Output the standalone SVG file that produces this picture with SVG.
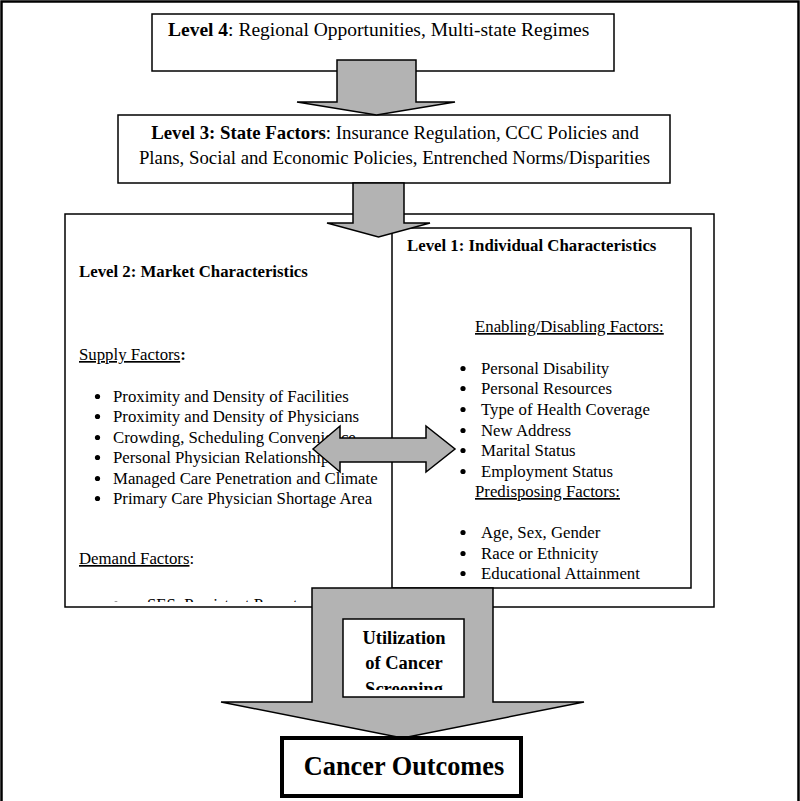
<svg xmlns="http://www.w3.org/2000/svg" width="800" height="801" viewBox="0 0 800 801">
<style>
  text { font-family: "Liberation Serif", "Times New Roman", serif; fill: #000; }
  .box { fill: #fff; stroke: #000; stroke-width: 1.5; }
  .arrow { fill: #b3b3b3; stroke: #000; stroke-width: 1.5; stroke-linejoin: miter; }
  .t4 { font-size: 19.5px; }
  .t3 { font-size: 18.8px; }
  .t16 { font-size: 16.8px; }
  .b { font-weight: bold; }
  .u { text-decoration: underline; }
  .dot { fill: #000; }
</style>
<defs>
  <clipPath id="clipL2"><rect x="65" y="214" width="649" height="388"/></clipPath>
  <clipPath id="clipUtil"><rect x="343" y="619" width="121" height="71"/></clipPath>
</defs>
<rect x="1.5" y="1.5" width="797" height="820" fill="#fff" stroke="#000" stroke-width="2.5"/>

<g id="level4">
  <rect class="box" x="152" y="14" width="462" height="57"/>
  <text class="t4" x="168" y="36"><tspan class="b">Level 4</tspan>: Regional Opportunities, Multi-state Regimes</text>
</g>

<g id="level3">
  <rect class="box" x="118" y="115" width="552" height="68"/>
  <text class="t3" x="395" y="139" text-anchor="middle"><tspan class="b">Level 3: State Factors</tspan>: Insurance Regulation, CCC Policies and</text>
  <text class="t3" x="394.5" y="164" text-anchor="middle">Plans, Social and Economic Policies, Entrenched Norms/Disparities</text>
</g>

<g id="level2">
  <rect class="box" x="65" y="214" width="649" height="393"/>
  <g clip-path="url(#clipL2)" class="t16">
    <text class="b" x="79" y="277">Level 2: Market Characteristics</text>
    <text x="79" y="360"><tspan class="u">Supply Factors</tspan><tspan class="b">:</tspan></text>
    <circle class="dot" cx="97.5" cy="396.5" r="2.6"/><text x="113" y="402">Proximity and Density of Facilities</text>
    <circle class="dot" cx="97.5" cy="416.5" r="2.6"/><text x="113" y="422">Proximity and Density of Physicians</text>
    <circle class="dot" cx="97.5" cy="437.5" r="2.6"/><text x="113" y="443">Crowding, Scheduling Convenience</text>
    <circle class="dot" cx="97.5" cy="457.5" r="2.6"/><text x="113" y="463">Personal Physician Relationship</text>
    <circle class="dot" cx="97.5" cy="478.5" r="2.6"/><text x="113" y="484">Managed Care Penetration and Climate</text>
    <circle class="dot" cx="97.5" cy="498.5" r="2.6"/><text x="113" y="504">Primary Care Physician Shortage Area</text>
    <text x="79" y="564"><tspan class="u">Demand Factors</tspan>:</text>
    <circle class="dot" cx="116" cy="604" r="2.6"/><text x="147" y="610">SES, Persistent Poverty</text>
  </g>
</g>

<g id="level1">
  <rect class="box" x="392" y="228" width="299" height="360"/>
  <g class="t16">
    <text class="b" x="407" y="251">Level 1: Individual Characteristics</text>
    <text class="u" x="475" y="332">Enabling/Disabling Factors:</text>
    <circle class="dot" cx="463" cy="368.5" r="2.6"/><text x="481" y="374">Personal Disability</text>
    <circle class="dot" cx="463" cy="388.5" r="2.6"/><text x="481" y="394">Personal Resources</text>
    <circle class="dot" cx="463" cy="409.5" r="2.6"/><text x="481" y="415">Type of Health Coverage</text>
    <circle class="dot" cx="463" cy="430.5" r="2.6"/><text x="481" y="436">New Address</text>
    <circle class="dot" cx="463" cy="450.5" r="2.6"/><text x="481" y="456">Marital Status</text>
    <circle class="dot" cx="463" cy="471.5" r="2.6"/><text x="481" y="477">Employment Status</text>
    <text class="u" x="475" y="497">Predisposing Factors:</text>
    <circle class="dot" cx="463" cy="532.5" r="2.6"/><text x="481" y="538">Age, Sex, Gender</text>
    <circle class="dot" cx="463" cy="553.5" r="2.6"/><text x="481" y="559">Race or Ethnicity</text>
    <circle class="dot" cx="463" cy="573.5" r="2.6"/><text x="481" y="579">Educational Attainment</text>
  </g>
</g>

<g id="connectors">
  <polygon class="arrow" points="337,60 416,60 416,102 455,102 376.5,115 297,102 337,102"/>
  <polygon class="arrow" points="353,183 404,183 404,223 430,223 378.5,237 327,223 353,223"/>
  <polygon class="arrow" points="313,449 340,426 340,438 426,438 426,426 455,449 426,472 426,462 340,462 340,472"/>
  <polygon class="arrow" points="312,588 493,588 493,702 584,702 402.5,738 221,702 312,702"/>
</g>

<g id="utilization">
  <rect class="box" x="343" y="619" width="121" height="78"/>
  <g clip-path="url(#clipUtil)">
    <text class="b" x="404" y="644" font-size="18.5" text-anchor="middle">Utilization</text>
    <text class="b" x="404" y="669" font-size="18.5" text-anchor="middle">of Cancer</text>
    <text class="b" x="404" y="695" font-size="18.5" text-anchor="middle">Screening</text>
  </g>
</g>

<g id="outcomes">
  <rect x="282" y="738" width="239" height="58" fill="#fff" stroke="#000" stroke-width="4"/>
  <text class="b" x="404" y="775" font-size="26.3" text-anchor="middle">Cancer Outcomes</text>
</g>
</svg>
